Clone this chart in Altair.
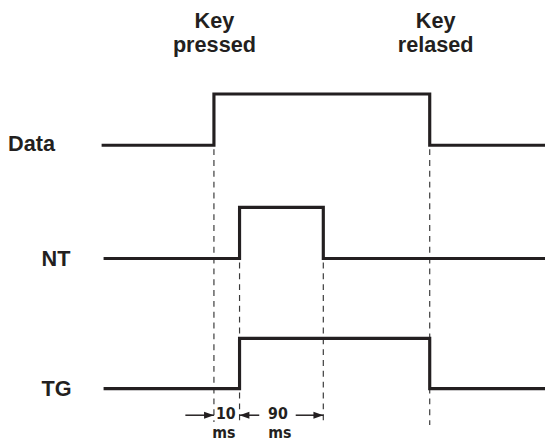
import altair as alt
import pandas as pd

# ---- data (schematic time units t, signal levels v) ----
signal_names = ["Data", "NT", "TG"]
signal_low = [304, 189, 57]
signal_high = [356, 241, 108]
line_start = [0, 2, 2]
rise_t = [114, 140, 140]
fall_t = [333, 225, 333]
line_end = 450

label_t = [-95, -61, -61]
label_level = [305, 188, 56]

marker_t = [114, 140, 225, 333]
marker_top = [304, 189, 189, 304]
marker_bottom = [23, 23, 23, 20]

event_text = ["Key\npressed", "Key\nrelased"]
event_t = [114.5, 339]
event_level = [423, 423]

arrow_from = [85, 160, 197]
arrow_to = [114, 140, 225]
arrow_dir = ["right", "left", "right"]
arrow_level = 30

dur_text = ["10", "90"]
dur_t = [126, 179]
dur_level = 31
unit_text = ["ms", "ms"]
unit_t = [124, 181]
unit_level = 12

INK = "#231f20"
NARROW = "Liberation Sans Narrow, DejaVu Sans Condensed, Liberation Sans"

# ---- tables ----
rows = []
for name, lo, hi, s, r, f in zip(signal_names, signal_low, signal_high, line_start, rise_t, fall_t):
    pts = [(s, lo), (r, lo), (r, hi), (f, hi), (f, lo), (line_end, lo)]
    for i, (t, v) in enumerate(pts):
        rows.append({"signal": name, "i": i, "t": t, "v": v})
steps = pd.DataFrame(rows)

labels = pd.DataFrame({"text": signal_names, "t": label_t, "v": label_level})
markers = pd.DataFrame({"t": marker_t, "top": marker_top, "bottom": marker_bottom})
events = pd.DataFrame({"text": event_text, "t": event_t, "v": event_level})
arrows = pd.DataFrame({"from": arrow_from, "to": arrow_to, "dir": arrow_dir,
                       "v": [arrow_level] * len(arrow_from)})
durs = pd.DataFrame({"text": dur_text, "t": dur_t, "v": [dur_level] * len(dur_t)})
units = pd.DataFrame({"text": unit_text, "t": unit_t, "v": [unit_level] * len(unit_t)})

xs = alt.Scale(domain=[-95, 450], nice=False, zero=False)
ys = alt.Scale(domain=[0, 440], nice=False, zero=False)


def X(f):
    return alt.X(f, type="quantitative", scale=xs, axis=None)


def Y(f):
    return alt.Y(f, type="quantitative", scale=ys, axis=None)


dashed = alt.Chart(markers).mark_rule(
    color="#3a3a3a", strokeWidth=1.2, strokeDash=[6, 5], strokeDashOffset=-4
).encode(x=X("t"), y=Y("top"), y2="bottom")

lines = alt.Chart(steps).mark_line(
    color=INK, strokeWidth=3.2, strokeJoin="miter", strokeCap="butt", interpolate="linear"
).encode(x=X("t"), y=Y("v"), detail="signal:N", order="i:Q")

label_txt = alt.Chart(labels).mark_text(
    align="left", baseline="middle", font="Liberation Sans", fontSize=22,
    fontWeight="bold", color=INK
).encode(x=X("t"), y=Y("v"), text="text:N")

event_txt = alt.Chart(events).mark_text(
    align="center", baseline="alphabetic", font="Liberation Sans", fontSize=22,
    fontWeight="bold", color=INK, lineBreak="\n", lineHeight=24
).encode(x=X("t"), y=Y("v"), text="text:N")

arrow_lines = alt.Chart(arrows).mark_rule(color=INK, strokeWidth=1.5).encode(
    x=X("from"), x2="to", y=Y("v")
)

heads = alt.Chart(arrows).mark_point(
    filled=True, opacity=1, size=400, color=INK, strokeWidth=0
).encode(
    x=X("to"), y=Y("v"),
    shape=alt.Shape("dir:N", legend=None, scale=alt.Scale(
        domain=["right", "left"],
        range=["M0,0L-1,-0.35L-1,0.35Z", "M0,0L1,-0.35L1,0.35Z"])),
)

dur_txt = alt.Chart(durs).mark_text(
    align="center", baseline="middle", font=NARROW,
    fontSize=16, fontWeight="bold", color=INK
).encode(x=X("t"), y=Y("v"), text="text:N")

unit_txt = alt.Chart(units).mark_text(
    align="center", baseline="middle", font=NARROW,
    fontSize=16, fontWeight="bold", color=INK
).encode(x=X("t"), y=Y("v"), text="text:N")

chart = alt.layer(
    dashed, lines, label_txt, event_txt, arrow_lines, heads, dur_txt, unit_txt
).properties(
    width=545, height=440, padding=0, autosize=alt.AutoSizeParams(type="none")
).configure_view(stroke=None)

chart.save("out.html", embed_options={"renderer": "svg", "actions": False})
